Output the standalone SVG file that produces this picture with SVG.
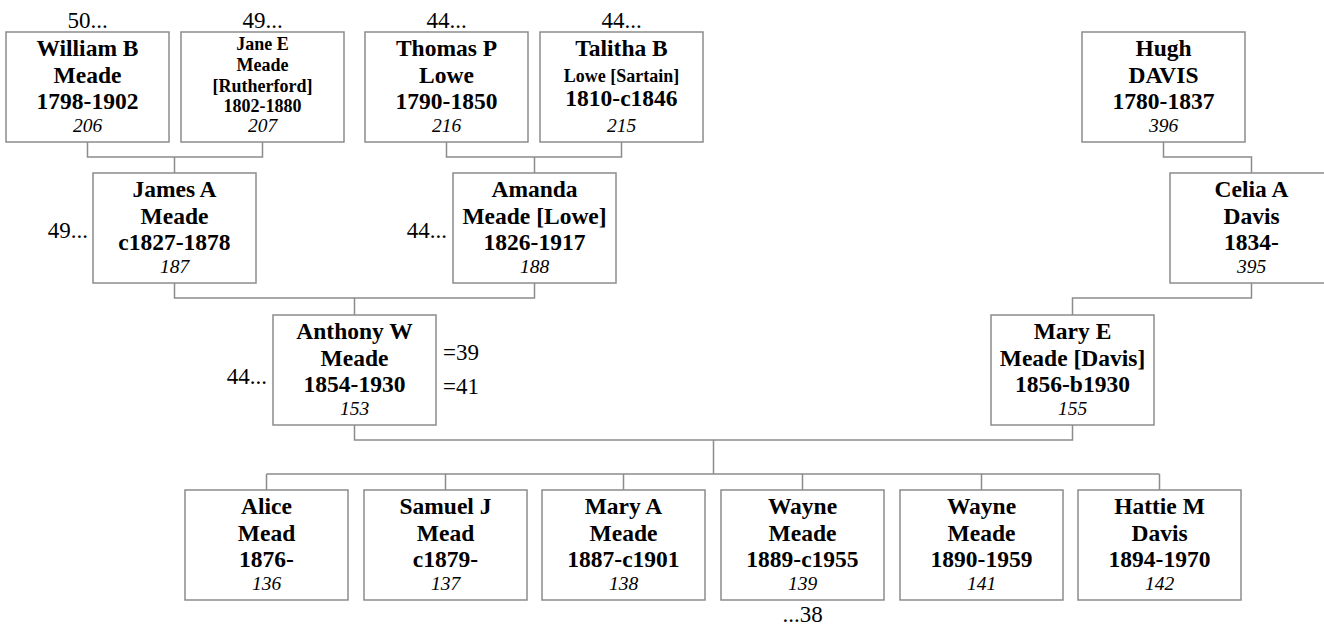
<svg xmlns="http://www.w3.org/2000/svg" width="1324" height="625" viewBox="0 0 1324 625">
<style>
.box{fill:#fff;stroke:#8c8c8c;stroke-width:1.5}
.nm{font-family:'Liberation Serif',serif;font-weight:bold;font-size:23.5px;text-anchor:middle;fill:#000}
.sm{font-family:'Liberation Serif',serif;font-weight:bold;font-size:18px;text-anchor:middle;fill:#000}
.id{font-family:'Liberation Serif',serif;font-style:italic;font-size:19.5px;text-anchor:middle;fill:#000}
.lb{font-family:'Liberation Serif',serif;font-size:23px;fill:#000}
.cn{fill:none;stroke:#8c8c8c;stroke-width:1.5}
</style>
<rect width="1324" height="625" fill="#fff"/>
<g id="connectors" class="cn">
<path d="M87.5,142V157H262.5V142M174.5,157V173"/>
<path d="M446.5,142V157H621.5V142M534.5,157V173"/>
<path d="M1163.5,142V157H1251.5V173"/>
<path d="M174.5,283V298H534.5V283M354.5,298V315"/>
<path d="M1251.5,283V298H1072.5V315"/>
<path d="M354.5,425V440H1072.5V425M713.5,440V474"/>
<path d="M266.5,474H1159.5M266.5,474V490M445.5,474V490M623.5,474V490M802.5,474V490M981.5,474V490M1159.5,474V490"/>
</g>
<g id="labels" class="lb">
<text x="87.5" y="28" text-anchor="middle">50...</text>
<text x="262.5" y="28" text-anchor="middle">49...</text>
<text x="446.5" y="28" text-anchor="middle">44...</text>
<text x="621.5" y="28" text-anchor="middle">44...</text>
<text x="88" y="238" text-anchor="end">49...</text>
<text x="447" y="238" text-anchor="end">44...</text>
<text x="267" y="384" text-anchor="end">44...</text>
<text x="443" y="360">=39</text>
<text x="443" y="394">=41</text>
<text x="802.5" y="622" text-anchor="middle">...38</text>
</g>
<g id="n206"><rect class="box" x="6" y="32" width="163" height="110"/>
<text class="nm" x="87.5" y="55.5">William B</text><text class="nm" x="87.5" y="82.5">Meade</text><text class="nm" x="87.5" y="109">1798-1902</text><text class="id" x="87.5" y="132">206</text></g>
<g id="n207"><rect class="box" x="181" y="32" width="163" height="110"/>
<text class="sm" x="262.5" y="50">Jane E</text><text class="sm" x="262.5" y="70.5">Meade</text><text class="sm" x="262.5" y="91.5">[Rutherford]</text><text class="sm" x="262.5" y="112">1802-1880</text><text class="id" x="262.5" y="132">207</text></g>
<g id="n216"><rect class="box" x="365" y="32" width="163" height="110"/>
<text class="nm" x="446.5" y="55.5">Thomas P</text><text class="nm" x="446.5" y="82.5">Lowe</text><text class="nm" x="446.5" y="109">1790-1850</text><text class="id" x="446.5" y="132">216</text></g>
<g id="n215"><rect class="box" x="540" y="32" width="163" height="110"/>
<text class="nm" x="621.5" y="55.5">Talitha B</text><text class="sm" x="621.5" y="81.5">Lowe [Sartain]</text><text class="nm" x="621.5" y="106">1810-c1846</text><text class="id" x="621.5" y="132">215</text></g>
<g id="n396"><rect class="box" x="1082" y="32" width="163" height="110"/>
<text class="nm" x="1163.5" y="55.5">Hugh</text><text class="nm" x="1163.5" y="82.5">DAVIS</text><text class="nm" x="1163.5" y="109">1780-1837</text><text class="id" x="1163.5" y="132">396</text></g>
<g id="n187"><rect class="box" x="93" y="173" width="163" height="110"/>
<text class="nm" x="174.5" y="196.5">James A</text><text class="nm" x="174.5" y="223.5">Meade</text><text class="nm" x="174.5" y="250">c1827-1878</text><text class="id" x="174.5" y="273">187</text></g>
<g id="n188"><rect class="box" x="453" y="173" width="163" height="110"/>
<text class="nm" x="534.5" y="196.5">Amanda</text><text class="nm" x="534.5" y="223.5">Meade [Lowe]</text><text class="nm" x="534.5" y="250">1826-1917</text><text class="id" x="534.5" y="273">188</text></g>
<g id="n395"><rect class="box" x="1170" y="173" width="163" height="110"/>
<text class="nm" x="1251.5" y="196.5">Celia A</text><text class="nm" x="1251.5" y="223.5">Davis</text><text class="nm" x="1251.5" y="250">1834-</text><text class="id" x="1251.5" y="273">395</text></g>
<g id="n153"><rect class="box" x="273" y="315" width="163" height="110"/>
<text class="nm" x="354.5" y="338.5">Anthony W</text><text class="nm" x="354.5" y="365.5">Meade</text><text class="nm" x="354.5" y="392">1854-1930</text><text class="id" x="354.5" y="415">153</text></g>
<g id="n155"><rect class="box" x="991" y="315" width="163" height="110"/>
<text class="nm" x="1072.5" y="338.5">Mary E</text><text class="nm" x="1072.5" y="365.5">Meade [Davis]</text><text class="nm" x="1072.5" y="392">1856-b1930</text><text class="id" x="1072.5" y="415">155</text></g>
<g id="n136"><rect class="box" x="185" y="490" width="163" height="110"/>
<text class="nm" x="266.5" y="513.5">Alice</text><text class="nm" x="266.5" y="540.5">Mead</text><text class="nm" x="266.5" y="567">1876-</text><text class="id" x="266.5" y="590">136</text></g>
<g id="n137"><rect class="box" x="364" y="490" width="163" height="110"/>
<text class="nm" x="445.5" y="513.5">Samuel J</text><text class="nm" x="445.5" y="540.5">Mead</text><text class="nm" x="445.5" y="567">c1879-</text><text class="id" x="445.5" y="590">137</text></g>
<g id="n138"><rect class="box" x="542" y="490" width="163" height="110"/>
<text class="nm" x="623.5" y="513.5">Mary A</text><text class="nm" x="623.5" y="540.5">Meade</text><text class="nm" x="623.5" y="567">1887-c1901</text><text class="id" x="623.5" y="590">138</text></g>
<g id="n139"><rect class="box" x="721" y="490" width="163" height="110"/>
<text class="nm" x="802.5" y="513.5">Wayne</text><text class="nm" x="802.5" y="540.5">Meade</text><text class="nm" x="802.5" y="567">1889-c1955</text><text class="id" x="802.5" y="590">139</text></g>
<g id="n141"><rect class="box" x="900" y="490" width="163" height="110"/>
<text class="nm" x="981.5" y="513.5">Wayne</text><text class="nm" x="981.5" y="540.5">Meade</text><text class="nm" x="981.5" y="567">1890-1959</text><text class="id" x="981.5" y="590">141</text></g>
<g id="n142"><rect class="box" x="1078" y="490" width="163" height="110"/>
<text class="nm" x="1159.5" y="513.5">Hattie M</text><text class="nm" x="1159.5" y="540.5">Davis</text><text class="nm" x="1159.5" y="567">1894-1970</text><text class="id" x="1159.5" y="590">142</text></g>
</svg>
